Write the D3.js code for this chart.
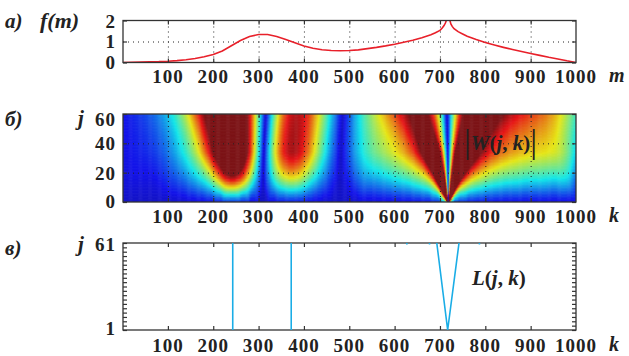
<!DOCTYPE html>
<html>
<head>
<meta charset="utf-8">
<script src="https://cdn.jsdelivr.net/npm/d3@7"></script>
<style>
  body { margin: 0; background: #fff; }
  svg { display: block; }
  text { font-family: "Liberation Serif", "Times New Roman", serif; font-weight: bold; fill: #222; }
  .it { font-style: italic; }
  .num { letter-spacing: 1px; }
</style>
</head>
<body>
<svg id="chart" width="629" height="356"></svg>
<script>
// signal f(m) (the tip goes past the top of the axes and is clipped there)
const mSamples = [0, 20, 40, 60, 80, 100, 120, 140, 160, 180, 200, 220, 240, 260, 280, 300, 320, 340, 360, 380,
  400, 420, 440, 460, 480, 500, 520, 540, 560, 580, 600, 620, 640, 660, 680, 690, 700, 705, 709, 712, 714, 716, 717, 718,
  719, 720, 722, 724, 727, 731, 740, 750, 760, 780, 800, 820, 840, 860, 880, 900, 920, 940, 960, 980, 1000];
const fSamples = [0.00, 0.01, 0.02, 0.03, 0.04, 0.06, 0.09, 0.13, 0.19, 0.27, 0.38, 0.55, 0.80, 1.05, 1.24, 1.33, 1.33, 1.24, 1.10, 0.94,
  0.79, 0.68, 0.61, 0.57, 0.56, 0.57, 0.60, 0.66, 0.72, 0.79, 0.87, 0.96, 1.06, 1.18, 1.32, 1.42, 1.53, 1.64, 1.76, 1.88, 2.00, 2.21, 2.42, 2.70,
  2.42, 2.21, 2.00, 1.84, 1.72, 1.61, 1.47, 1.36, 1.25, 1.09, 0.95, 0.83, 0.72, 0.62, 0.52, 0.43, 0.34, 0.25, 0.17, 0.08, 0.00];

const ridgeK = [[243, 243], [372, 372], [693, 717, 742], [627, 627], [677, 677], [787, 787]];
const ridgeJ = [[1, 61], [1, 61], [61, 1, 61], [60, 61], [60, 61], [60, 61]];

const xTicks = [100, 200, 300, 400, 500, 600, 700, 800, 900, 1000];
const gridX = [100, 200, 300, 400, 500, 600, 700, 800, 900];
const fTicks = [0, 1, 2];
const jTicks = [0, 20, 40, 60];
const lTicks = d3.range(1, 62, 3);
const scales = d3.range(1, 61);
const kCols = d3.range(0, 1001, 2);

const svg = d3.select('#chart');
const left = 123, right = 576;
const x = d3.scaleLinear().domain([1, 1000]).range([left, right]);
const yA = d3.scaleLinear().domain([0, 2]).range([62.5, 20.5]);
const yB = d3.scaleLinear().domain([0, 60]).range([202, 114]);
const yC = d3.scaleLinear().domain([1, 61]).range([330, 243]);

// jet, a little washed out like the printed figure
function jet(t) {
  const c = (v, g) => Math.round(0.82 * 255 * Math.max(0, Math.min(1, v)) + 0.18 * g);
  return `rgb(${c(1.5 - Math.abs(4 * t - 3), 115)},${c(1.5 - Math.abs(4 * t - 2), 115)},${c(1.5 - Math.abs(4 * t - 1), 135)})`;
}
const color = d3.scaleSequential(jet).domain([0, 1]).clamp(true);

function erf(v) {
  const s = Math.sign(v), a = Math.abs(v);
  const t = 1 / (1 + 0.3275911 * a);
  const y = 1 - (((((1.061405429 * t - 1.453152027) * t) + 1.421413741) * t - 0.284496736) * t + 0.254829592) * t * Math.exp(-a * a);
  return s * y;
}

// |W(j,k)|: gaus1 wavelet transform of the sampled f, coloured scale by scale
const segs = d3.pairs(d3.zip(mSamples, fSamples)).map(([[t0, f0], [t1, f1]]) => ({t0, t1, d: (f1 - f0) / (t1 - t0)}));
const W = scales.map(s => kCols.map(b => {
  let w = 0;
  for (const g of segs) {
    const u0 = (g.t0 - b) / s, u1 = (g.t1 - b) / s;
    if (u1 < -6 || u0 > 6) continue;
    w += g.d * (erf(u1) - erf(u0));
  }
  return Math.abs(w * s * Math.sqrt(Math.PI) / 2);
}));
const wFloor = 0.08, wLevel = 0.75;

function grid(y, top, bottom, gridY) {
  const g = svg.append('g');
  g.append('g').attr('transform', `translate(0,${bottom})`)
    .call(d3.axisBottom(x).tickValues(gridX).tickSize(-(bottom - top)).tickFormat(''))
    .call(a => a.select('.domain').remove())
    .selectAll('line').attr('stroke', '#222').attr('stroke-dasharray', '1,4');
  g.append('g').attr('transform', `translate(${left},0)`)
    .call(d3.axisLeft(y).tickValues(gridY).tickSize(-(right - left)).tickFormat(''))
    .call(a => a.select('.domain').remove())
    .selectAll('line').attr('stroke', '#222').attr('stroke-dasharray', '1,4');
}

function box(y, top, bottom, yTickVals) {
  const g = svg.append('g');
  const ax = [
    [d3.axisBottom(x).tickValues(gridX), `translate(0,${bottom})`],
    [d3.axisTop(x).tickValues(gridX), `translate(0,${top})`],
    [d3.axisLeft(y).tickValues(yTickVals), `translate(${left},0)`],
    [d3.axisRight(y).tickValues(yTickVals), `translate(${right},0)`]
  ];
  ax.forEach(([a, t]) => {
    g.append('g').attr('transform', t)
      .call(a.tickSize(-4).tickFormat(''))
      .call(s => s.select('.domain').remove())
      .selectAll('line').attr('stroke', '#333').attr('stroke-width', 1.2);
  });
  g.append('rect').attr('x', left).attr('y', top).attr('width', right - left).attr('height', bottom - top)
    .attr('fill', 'none').attr('stroke', '#333').attr('stroke-width', 1.3);
}

function xLabels(baseline, unit) {
  svg.append('g').selectAll('text').data(xTicks).join('text')
    .attr('class', 'num')
    .attr('x', d => x(d)).attr('y', baseline).attr('text-anchor', 'middle')
    .attr('font-size', 19).text(d => d);
  svg.append('text').attr('class', 'it').attr('x', 609).attr('y', baseline - 1)
    .attr('font-size', 20).text(unit);
}

function yLabel(val, yPos) {
  svg.append('text').attr('class', 'num').attr('x', 116).attr('y', yPos).attr('text-anchor', 'end')
    .attr('font-size', 19).text(val);
}

// ---- panel a
svg.append('clipPath').attr('id', 'clipA').append('rect')
  .attr('x', left).attr('y', 20.5).attr('width', right - left).attr('height', 42);
grid(yA, 20.5, 62.5, [1]);
svg.append('path').datum(d3.zip(mSamples, fSamples))
  .attr('clip-path', 'url(#clipA)')
  .attr('fill', 'none').attr('stroke', '#e8202a').attr('stroke-width', 1.6)
  .attr('d', d3.line().x(d => x(d[0])).y(d => yA(d[1])));
box(yA, 20.5, 62.5, fTicks);
yLabel('2', 28);
yLabel('1', 48);
yLabel('0', 69);
svg.append('text').attr('class', 'it').attr('x', 5).attr('y', 28).attr('font-size', 21).text('а)');
svg.append('text').attr('class', 'it').attr('x', 40).attr('y', 28).attr('font-size', 22).text('f(m)');
xLabels(83, 'm');

// ---- panel б
const cv = document.createElement('canvas');
cv.width = right - left; cv.height = 88;
const ctx = cv.getContext('2d');
scales.forEach((s, r) => {
  const rowMax = d3.max(W[r]);
  kCols.forEach((k, c) => {
    ctx.fillStyle = color(wFloor + W[r][c] / (wLevel * rowMax));
    ctx.fillRect(x(k - 1) - left, yB(s) - 114, x(k + 1) - x(k - 1) + 0.5, yB(s - 1) - yB(s) + 0.5);
  });
});
svg.append('image').attr('x', left).attr('y', 114).attr('width', right - left).attr('height', 88)
  .attr('preserveAspectRatio', 'none').attr('href', cv.toDataURL());
grid(yB, 114, 202, [20, 40]);
box(yB, 114, 202, jTicks);
yLabel('60', 126);
yLabel('40', 150);
yLabel('20', 180);
yLabel('0', 208);
svg.append('text').attr('class', 'it').attr('x', 5).attr('y', 126).attr('font-size', 21).text('б)');
svg.append('text').attr('class', 'it').attr('x', 78).attr('y', 125).attr('font-size', 21).text('j');
const wLab = svg.append('text').attr('x', 464).attr('y', 150).attr('font-size', 21);
wLab.append('tspan').attr('font-size', 34).attr('font-weight', 'normal').attr('dy', 3).text('|');
wLab.append('tspan').attr('class', 'it').attr('dy', -3).text('W');
wLab.append('tspan').text('(');
wLab.append('tspan').attr('class', 'it').text('j');
wLab.append('tspan').text(', ');
wLab.append('tspan').attr('class', 'it').text('k');
wLab.append('tspan').text(')');
wLab.append('tspan').attr('font-size', 34).attr('font-weight', 'normal').attr('dy', 3).text('|');
xLabels(223, 'k');

// ---- panel в
box(yC, 243, 330, lTicks);
svg.selectAll('.ridge').data(d3.zip(ridgeK, ridgeJ)).join('path')
  .attr('fill', 'none').attr('stroke', '#1aade6').attr('stroke-width', 1.6)
  .attr('d', ([ks, js]) => d3.line().x(d => x(d[0])).y(d => yC(d[1]))(d3.zip(ks, js)));
yLabel('61', 251);
yLabel('1', 335);
svg.append('text').attr('class', 'it').attr('x', 5).attr('y', 255).attr('font-size', 21).text('в)');
svg.append('text').attr('class', 'it').attr('x', 78).attr('y', 251).attr('font-size', 21).text('j');
const lLab = svg.append('text').attr('x', 472).attr('y', 285).attr('font-size', 21);
lLab.append('tspan').attr('class', 'it').text('L');
lLab.append('tspan').text('(');
lLab.append('tspan').attr('class', 'it').text('j');
lLab.append('tspan').text(', ');
lLab.append('tspan').attr('class', 'it').text('k');
lLab.append('tspan').text(')');
xLabels(352, 'k');
</script>
</body>
</html>
